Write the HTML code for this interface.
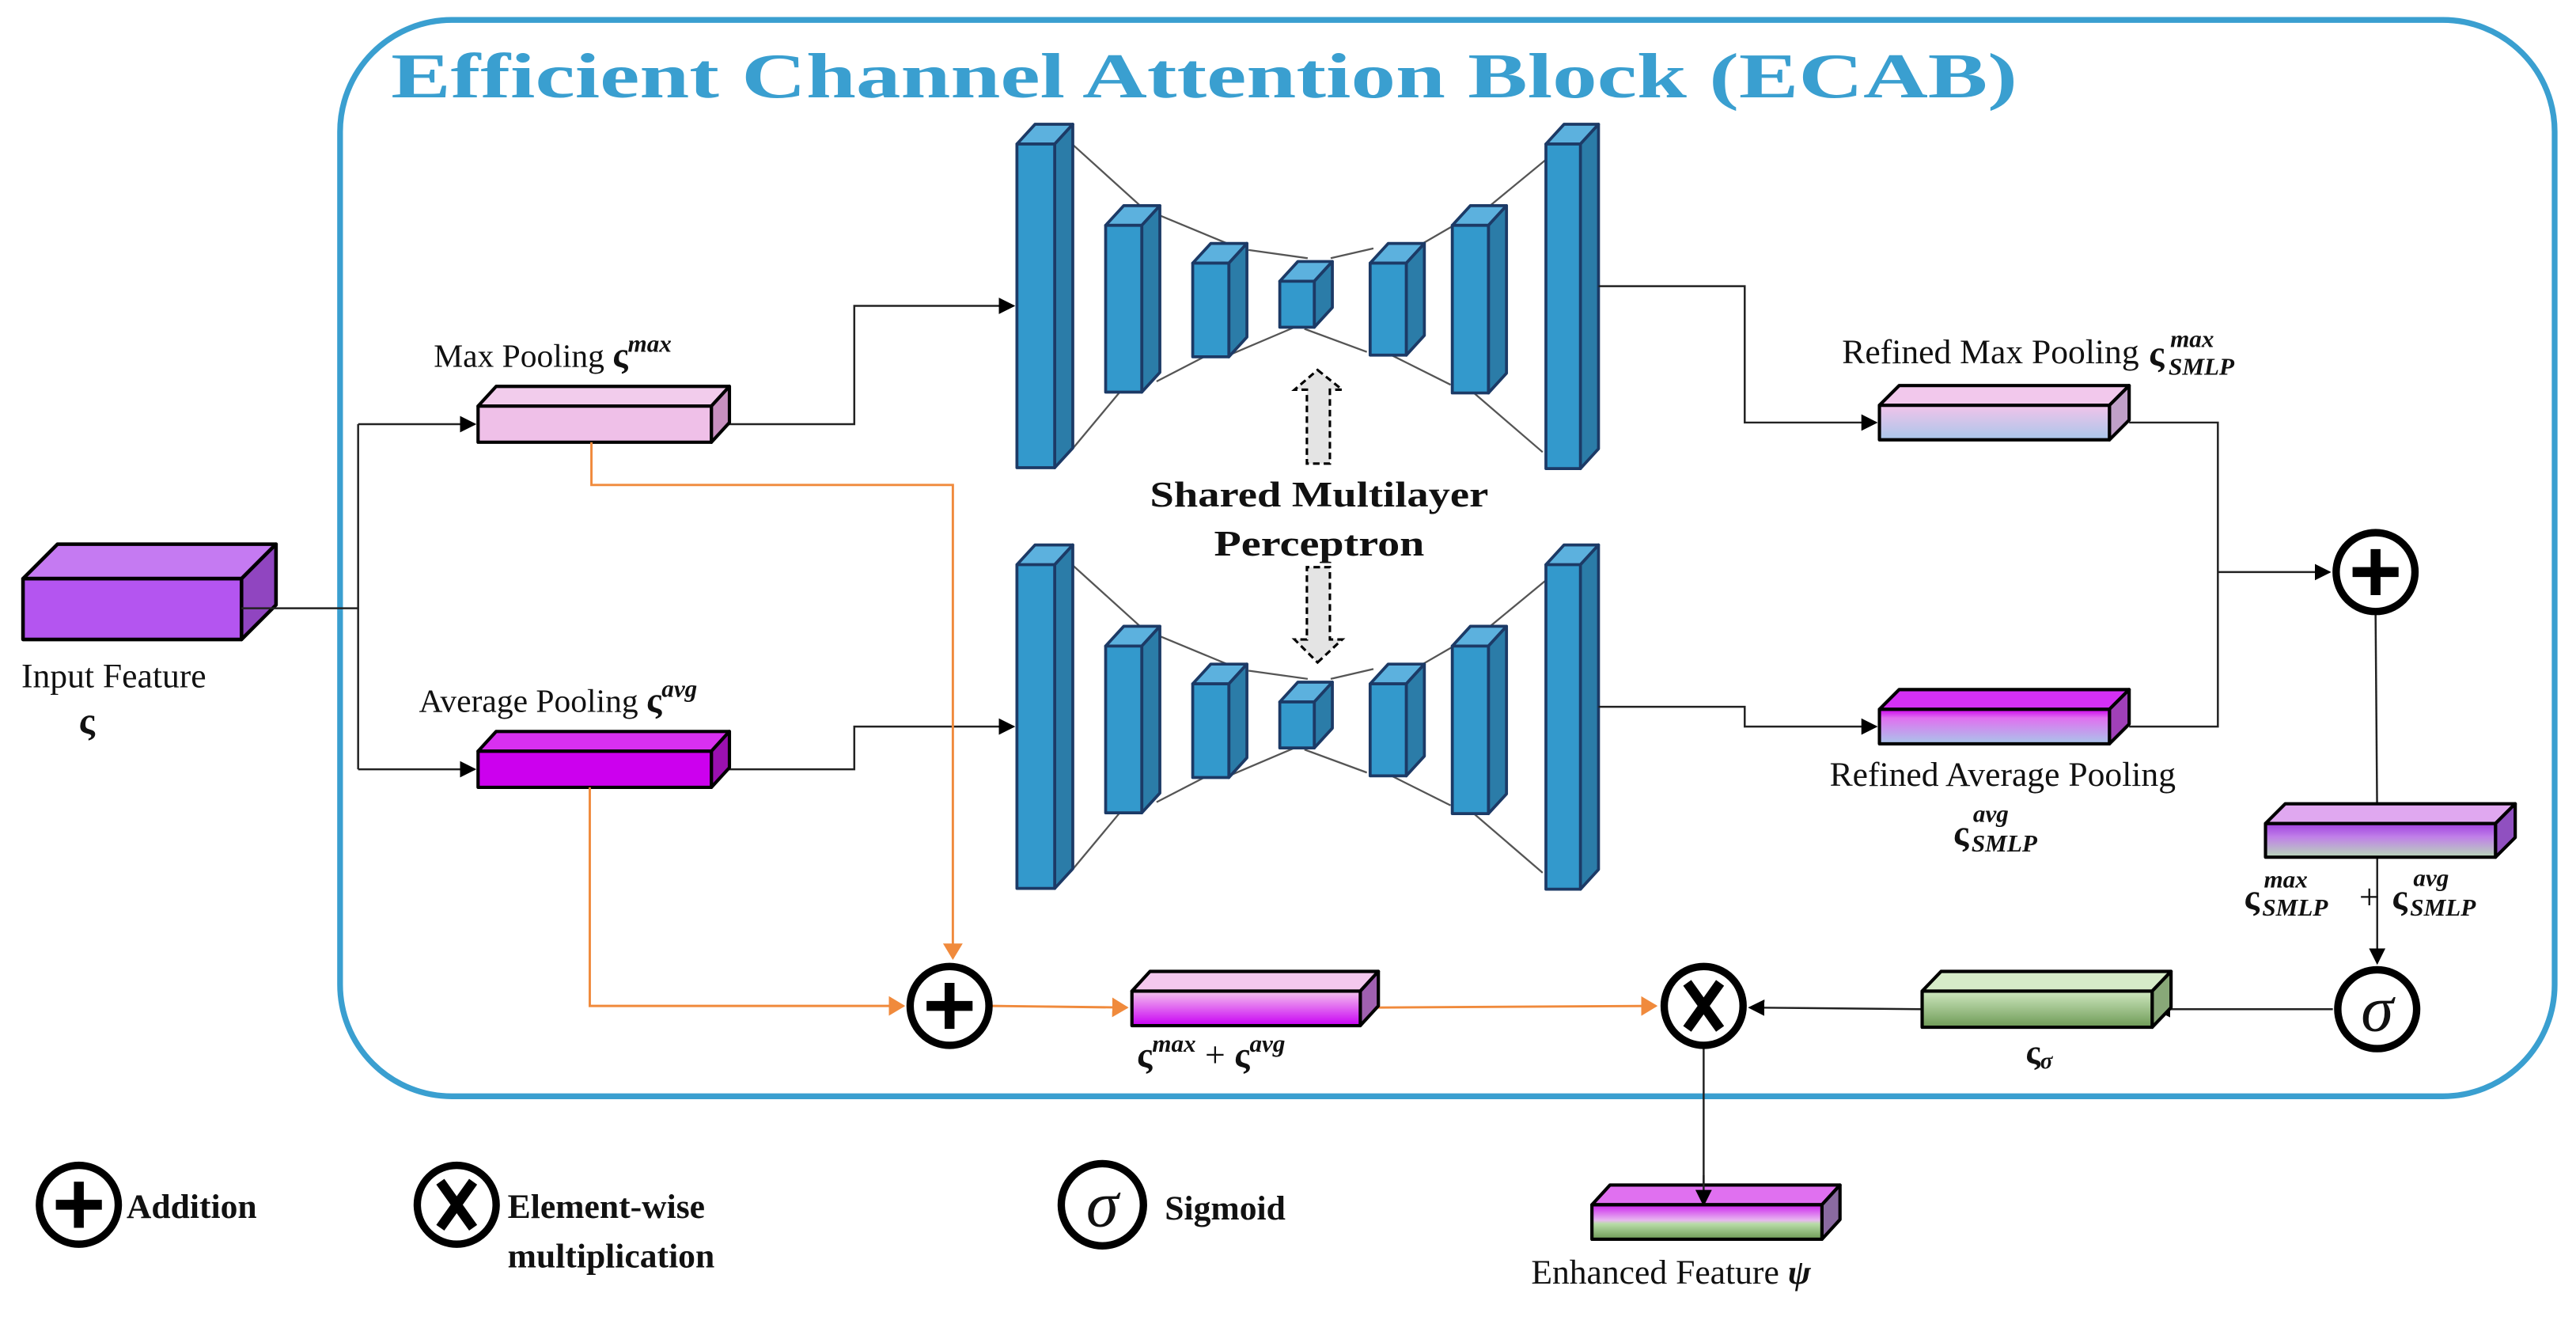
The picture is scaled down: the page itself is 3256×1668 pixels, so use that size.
<!DOCTYPE html>
<html><head><meta charset="utf-8"><style>
html,body{margin:0;padding:0;background:#fff;}
svg{display:block;}
text{font-family:"Liberation Serif",serif;fill:#111;}
</style></head><body>
<svg width="3256" height="1668" viewBox="0 0 1568 803" xmlns="http://www.w3.org/2000/svg">
<defs>
<marker id="ab" markerWidth="10" markerHeight="10" refX="9" refY="5" orient="auto" markerUnits="userSpaceOnUse"><path d="M0,0 L10,5 L0,10 z" fill="#000"/></marker>
<marker id="ao" markerWidth="10" markerHeight="12" refX="9" refY="6" orient="auto" markerUnits="userSpaceOnUse"><path d="M0,0 L10,6 L0,12 z" fill="#f08a3c"/></marker>
<linearGradient id="gRM" x1="0" y1="0" x2="0" y2="1"><stop offset="0" stop-color="#f2c4ea"/><stop offset="1" stop-color="#a9c6ea"/></linearGradient>
<linearGradient id="gRA" x1="0" y1="0" x2="0" y2="1"><stop offset="0" stop-color="#cc00ee"/><stop offset="0.25" stop-color="#e070f0"/><stop offset="1" stop-color="#a9c6ea"/></linearGradient>
<linearGradient id="gS" x1="0" y1="0" x2="0" y2="1"><stop offset="0" stop-color="#a040e0"/><stop offset="0.4" stop-color="#c080e8"/><stop offset="1" stop-color="#b8d8b8"/></linearGradient>
<linearGradient id="gG" x1="0" y1="0" x2="0" y2="1"><stop offset="0" stop-color="#cfe8c0"/><stop offset="1" stop-color="#6d9a55"/></linearGradient>
<linearGradient id="gE" x1="0" y1="0" x2="0" y2="1"><stop offset="0" stop-color="#cc22ee"/><stop offset="0.45" stop-color="#e8b8f0"/><stop offset="0.55" stop-color="#b8dca8"/><stop offset="1" stop-color="#6d9a55"/></linearGradient>
<linearGradient id="gP" x1="0" y1="0" x2="0" y2="1"><stop offset="0" stop-color="#f4c4ee"/><stop offset="0.35" stop-color="#e680f0"/><stop offset="1" stop-color="#c800f4"/></linearGradient>
</defs>

<rect x="207" y="12" width="1348" height="655" rx="68" ry="68" fill="none" stroke="#3a9fd0" stroke-width="3.5"/>
<text x="238" y="59" font-size="39" font-weight="bold" style="fill:#3a9fd0" textLength="990" lengthAdjust="spacingAndGlyphs">Efficient Channel Attention Block (ECAB)</text>

<g stroke="#000" stroke-width="2.2" stroke-linejoin="round">
<polygon points="14,352 35,331 168,331 147,352" fill="#c57af2"/>
<polygon points="147,352 168,331 168,368 147,389" fill="#9045c0"/>
<rect x="14" y="352" width="133" height="37" fill="#b455f0"/>
</g>
<text x="13" y="418" font-size="21">Input Feature</text>
<text x="48" y="446" font-size="23" font-weight="bold">ς</text>

<g stroke="#222" stroke-width="1.2" fill="none">
<polyline points="147,370 218,370"/>
<line x1="218" y1="258" x2="218" y2="468"/>
<line x1="218" y1="258" x2="289" y2="258" marker-end="url(#ab)"/>
<line x1="218" y1="468" x2="289" y2="468" marker-end="url(#ab)"/>
<polyline points="443,258 520,258 520,186 617,186" marker-end="url(#ab)"/>
<polyline points="443,468 520,468 520,442 617,442" marker-end="url(#ab)"/>
</g>

<g stroke="#000" stroke-width="2" stroke-linejoin="round">
<polygon points="291,247 302,235 444,235 433,247" fill="#f2ccec"/>
<polygon points="433,247 444,235 444,257 433,269" fill="#c890c0"/>
<rect x="291" y="247" width="142" height="22" fill="#efc0e8"/>
</g>
<text x="264" y="223" font-size="20">Max Pooling <tspan font-weight="bold" font-size="22">ς</tspan><tspan font-weight="bold" font-style="italic" font-size="15" dy="-9">max</tspan></text>

<g stroke="#000" stroke-width="2" stroke-linejoin="round">
<polygon points="291,457 302,445 444,445 433,457" fill="#d830f0"/>
<polygon points="433,457 444,445 444,467 433,479" fill="#9a10b0"/>
<rect x="291" y="457" width="142" height="22" fill="#cc00ee"/>
</g>
<text x="255" y="433" font-size="20">Average Pooling <tspan font-weight="bold" font-size="22">ς</tspan><tspan font-weight="bold" font-style="italic" font-size="15" dy="-9">avg</tspan></text>

<g id="mlp">
<g stroke="#555" stroke-width="1.1" fill="none">
<line x1="652" y1="87" x2="694" y2="125"/><line x1="706" y1="131" x2="747" y2="148"/><line x1="760" y1="152" x2="796" y2="157"/>
<line x1="810" y1="157" x2="836" y2="151"/><line x1="866" y1="148" x2="885" y2="137"/><line x1="907" y1="125" x2="941" y2="97"/>
<line x1="652" y1="274" x2="682" y2="238"/><line x1="704" y1="232" x2="733" y2="217"/><line x1="748" y1="216" x2="788" y2="199"/>
<line x1="794" y1="200" x2="832" y2="214"/><line x1="847" y1="216" x2="883" y2="234"/><line x1="896" y1="238" x2="939" y2="275"/>
</g>
<g stroke="#1c3a66" stroke-width="1.8" stroke-linejoin="round">
<polygon points="619,87.5 630,75.5 653,75.5 642,87.5" fill="#5cb1de"/><polygon points="642,87.5 653,75.5 653,272.5 642,284.5" fill="#2b7ca8"/><rect x="619" y="87.5" width="23" height="197" fill="#3399cc"/>
<polygon points="673,137 684,125 706,125 695,137" fill="#5cb1de"/><polygon points="695,137 706,125 706,226.5 695,238.5" fill="#2b7ca8"/><rect x="673" y="137" width="22" height="101.5" fill="#3399cc"/>
<polygon points="726,160 737,148 759,148 748,160" fill="#5cb1de"/><polygon points="748,160 759,148 759,205 748,217" fill="#2b7ca8"/><rect x="726" y="160" width="22" height="57" fill="#3399cc"/>
<polygon points="779,171 790,159 811,159 800,171" fill="#5cb1de"/><polygon points="800,171 811,159 811,187 800,199" fill="#2b7ca8"/><rect x="779" y="171" width="21" height="28" fill="#3399cc"/>
<polygon points="834,160 845,148 867,148 856,160" fill="#5cb1de"/><polygon points="856,160 867,148 867,204 856,216" fill="#2b7ca8"/><rect x="834" y="160" width="22" height="56" fill="#3399cc"/>
<polygon points="884,137 895,125 917,125 906,137" fill="#5cb1de"/><polygon points="906,137 917,125 917,227 906,239" fill="#2b7ca8"/><rect x="884" y="137" width="22" height="102" fill="#3399cc"/>
<polygon points="941,87.5 952,75.5 973,75.5 962,87.5" fill="#5cb1de"/><polygon points="962,87.5 973,75.5 973,273 962,285" fill="#2b7ca8"/><rect x="941" y="87.5" width="21" height="197.5" fill="#3399cc"/>
</g>
</g>
<use href="#mlp" transform="translate(0,256)"/>

<g stroke="#000" stroke-width="1.5" stroke-dasharray="4,2.5" fill="#e4e4e4">
<polygon points="802,225 817,237 809.5,237 809.5,282 795.5,282 795.5,237 788,237"/>
<polygon points="802,403 817,389 809.5,389 809.5,345 795.5,345 795.5,389 788,389"/>
</g>
<text x="803" y="308" font-size="22" font-weight="bold" text-anchor="middle" textLength="206" lengthAdjust="spacingAndGlyphs">Shared Multilayer</text>
<text x="803" y="338" font-size="22" font-weight="bold" text-anchor="middle" textLength="128" lengthAdjust="spacingAndGlyphs">Perceptron</text>

<g stroke="#222" stroke-width="1.2" fill="none">
<polyline points="973,174 1062,174 1062,257 1142,257" marker-end="url(#ab)"/>
<polyline points="973,430 1062,430 1062,442 1142,442" marker-end="url(#ab)"/>
<polyline points="1296,257 1350,257 1350,442 1296,442"/>
<line x1="1350" y1="348" x2="1418" y2="348" marker-end="url(#ab)"/>
<line x1="1446" y1="374" x2="1447" y2="500" marker-end="url(#ab)"/>
<line x1="1447" y1="522" x2="1447" y2="586" marker-end="url(#ab)"/>
<line x1="1420" y1="614" x2="1312" y2="614" marker-end="url(#ab)"/>
<line x1="1170" y1="614" x2="1065" y2="613" marker-end="url(#ab)"/>
<line x1="1037" y1="637" x2="1037" y2="721"/>
</g>

<g stroke="#000" stroke-width="2" stroke-linejoin="round">
<polygon points="1144,246.5 1156,234.5 1296,234.5 1284,246.5" fill="#f2c8ec"/>
<polygon points="1284,246.5 1296,234.5 1296,255.5 1284,267.5" fill="#c0a0c8"/>
<rect x="1144" y="246.5" width="140" height="21" fill="url(#gRM)"/>
</g>
<text x="1302" y="221" font-size="21" text-anchor="end">Refined Max Pooling</text>
<text x="1308" y="222" font-size="22" font-weight="bold">ς</text>
<text x="1321" y="211" font-size="15" font-weight="bold" font-style="italic">max</text>
<text x="1320" y="228" font-size="15" font-weight="bold" font-style="italic">SMLP</text>

<g stroke="#000" stroke-width="2" stroke-linejoin="round">
<polygon points="1144,431.5 1156,419.5 1296,419.5 1284,431.5" fill="#d430f4"/>
<polygon points="1284,431.5 1296,419.5 1296,440.5 1284,452.5" fill="#a040b8"/>
<rect x="1144" y="431.5" width="140" height="21" fill="url(#gRA)"/>
</g>
<text x="1219" y="478" font-size="21" text-anchor="middle">Refined Average Pooling</text>
<text x="1189" y="514" font-size="22" font-weight="bold">ς</text>
<text x="1201" y="500" font-size="15" font-weight="bold" font-style="italic">avg</text>
<text x="1200" y="518" font-size="15" font-weight="bold" font-style="italic">SMLP</text>

<g stroke="#000" stroke-width="2" stroke-linejoin="round">
<polygon points="1379,501 1391,489 1531,489 1519,501" fill="#e0a8f0"/>
<polygon points="1519,501 1531,489 1531,509.5 1519,521.5" fill="#9050c0"/>
<rect x="1379" y="501" width="140" height="20.5" fill="url(#gS)"/>
</g>
<text x="1366" y="553" font-size="22" font-weight="bold">ς</text>
<text x="1378" y="540" font-size="15" font-weight="bold" font-style="italic">max</text>
<text x="1377" y="557" font-size="15" font-weight="bold" font-style="italic">SMLP</text>
<text x="1436" y="553" font-size="22">+</text>
<text x="1456" y="553" font-size="22" font-weight="bold">ς</text>
<text x="1469" y="539" font-size="15" font-weight="bold" font-style="italic">avg</text>
<text x="1467" y="557" font-size="15" font-weight="bold" font-style="italic">SMLP</text>

<g stroke="#000" stroke-width="2" stroke-linejoin="round">
<polygon points="1170,603 1181.5,591 1321.5,591 1310,603" fill="#d6ecc8"/>
<polygon points="1310,603 1321.5,591 1321.5,613 1310,625" fill="#88a878"/>
<rect x="1170" y="603" width="140" height="22" fill="url(#gG)"/>
</g>
<text x="1233" y="647" font-size="21" font-weight="bold">ς<tspan font-size="14" font-style="italic" dy="3">σ</tspan></text>

<g stroke="#f08a3c" stroke-width="1.4" fill="none">
<polyline points="360,269 360,295 580,295 580,583" marker-end="url(#ao)"/>
<polyline points="359,479 359,612 550,612" marker-end="url(#ao)"/>
<line x1="604" y1="612" x2="686" y2="613" marker-end="url(#ao)"/>
<line x1="839" y1="613" x2="1008" y2="612" marker-end="url(#ao)"/>
</g>

<g stroke="#000" stroke-width="2" stroke-linejoin="round">
<polygon points="689,603 700,591 839,591 828,603" fill="#f4c8ee"/>
<polygon points="828,603 839,591 839,612 828,624" fill="#a060b0"/>
<rect x="689" y="603" width="139" height="21" fill="url(#gP)"/>
</g>
<text x="692" y="649" font-size="22" font-weight="bold">ς<tspan font-size="15" font-style="italic" dy="-9">max</tspan><tspan font-size="22" font-weight="normal" font-style="normal" dy="9"> + </tspan>ς<tspan font-size="15" font-style="italic" dy="-9">avg</tspan></text>

<g stroke="#000" stroke-width="4.5" fill="#fff">
<circle cx="1446" cy="348" r="24"/>
<circle cx="1447" cy="614" r="24"/>
<circle cx="578" cy="612" r="24"/>
<circle cx="1037" cy="612" r="24"/>
<circle cx="48" cy="733" r="24"/>
<circle cx="278" cy="733" r="24"/>
<circle cx="671" cy="733" r="25"/>
</g>
<g stroke="#000" stroke-width="6" stroke-linecap="butt">
<line x1="1446" y1="334" x2="1446" y2="362"/><line x1="1432" y1="348" x2="1460" y2="348"/>
<line x1="578" y1="598" x2="578" y2="626"/><line x1="564" y1="612" x2="592" y2="612"/>
<line x1="48" y1="719" x2="48" y2="747"/><line x1="34" y1="733" x2="62" y2="733"/>
<line x1="1027" y1="598" x2="1047" y2="626"/><line x1="1047" y1="598" x2="1027" y2="626"/>
<line x1="268" y1="719" x2="288" y2="747"/><line x1="288" y1="719" x2="268" y2="747"/>
</g>
<text x="1447" y="627" font-size="40" font-style="italic" text-anchor="middle">σ</text>
<text x="671" y="746" font-size="40" font-style="italic" text-anchor="middle">σ</text>

<g stroke="#000" stroke-width="2" stroke-linejoin="round">
<polygon points="969,733 980,721 1120,721 1109,733" fill="#e070f0"/>
<polygon points="1109,733 1120,721 1120,742 1109,754" fill="#8a6aa0"/>
<rect x="969" y="733" width="140" height="21" fill="url(#gE)"/>
</g>
<line x1="1037" y1="715" x2="1037" y2="733" stroke="#222" stroke-width="1.2" marker-end="url(#ab)"/>
<text x="932" y="781" font-size="21">Enhanced Feature <tspan font-weight="bold" font-style="italic">ψ</tspan></text>

<text x="77" y="741" font-size="21" font-weight="bold">Addition</text>
<text x="309" y="741" font-size="21" font-weight="bold">Element-wise</text>
<text x="309" y="771" font-size="21" font-weight="bold">multiplication</text>
<text x="709" y="742" font-size="21" font-weight="bold">Sigmoid</text>
</svg>
</body></html>
